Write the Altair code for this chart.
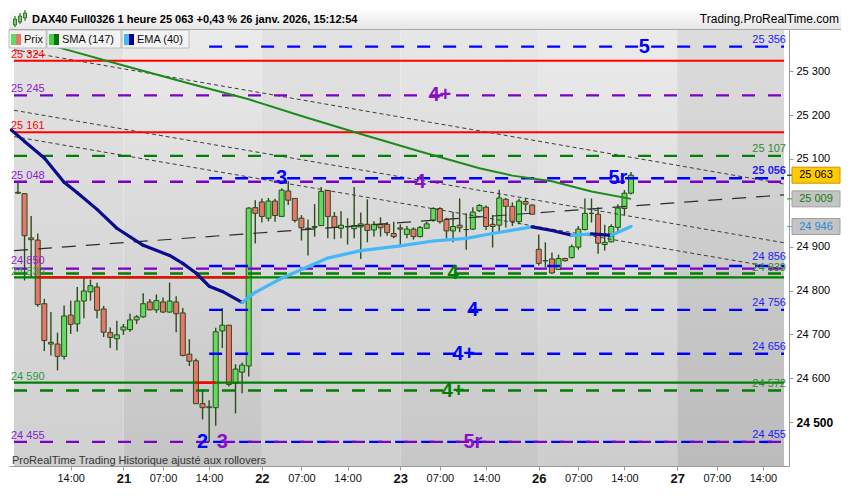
import json
import altair as alt
import pandas as pd

# ================= data =================
# hourly bars, global bar number (21 bars per trading day: 01:00 .. 21:00)
bar_index = list(range(5, 99))
opens = [25024, 25021, 24920, 24915, 24770, 24682, 24678, 24650, 24744, 24724,
         24776, 24797, 24808, 24758, 24704, 24690, 24710, 24711, 24733, 24740,
         24774, 24756, 24774, 24751, 24774, 24749, 24655, 24640, 24542, 24533,
         24533, 24708, 24721, 24588, 24614, 24628, 24989, 25002, 24965, 25004,
         24969, 25027, 25010, 24965, 24941, 24944, 24948, 25028, 24969, 24942,
         24945, 24941, 24945, 24951, 24938, 24951, 24951, 24930, 24943, 24928,
         24940, 24923, 24942, 24960, 24987, 24962, 24936, 24949, 24939, 24940,
         24982, 24990, 24951, 24949, 25008, 24992, 24957, 25003, 24995, 24894,
         24868, 24872, 24848, 24873, 24875, 24899, 24939, 24976, 24974, 24905,
         24911, 24944, 24987, 25022]
highs = [25045, 25022, 24970, 24930, 24781, 24751, 24704, 24766, 24777, 24808,
         24832, 24825, 24818, 24765, 24716, 24731, 24724, 24747, 24744, 24794,
         24781, 24791, 24784, 24818, 24787, 24760, 24689, 24645, 24574, 24550,
         24715, 24760, 24721, 24632, 24636, 24990, 25006, 25010, 25011, 25009,
         25033, 25050, 25010, 24972, 24962, 24997, 25036, 25030, 24979, 24981,
         24965, 25036, 24978, 25008, 24958, 24967, 24956, 24957, 24951, 24947,
         24944, 24947, 24957, 24990, 24990, 24966, 24979, 25010, 24976, 24990,
         24997, 24994, 24972, 25030, 25011, 25001, 25009, 25010, 24996, 24928,
         24910, 24887, 24882, 24875, 24905, 24947, 25010, 25010, 24990, 24950,
         24951, 24997, 25029, 25070]
lows = [25020, 24823, 24830, 24763, 24662, 24652, 24618, 24643, 24701, 24706,
        24737, 24777, 24737, 24694, 24669, 24664, 24699, 24706, 24724, 24738,
        24755, 24749, 24749, 24749, 24705, 24650, 24628, 24542, 24506, 24455,
        24492, 24669, 24581, 24520, 24566, 24604, 24907, 24955, 24958, 24957,
        24969, 24995, 24955, 24914, 24880, 24923, 24948, 24919, 24917, 24919,
        24905, 24919, 24872, 24910, 24923, 24923, 24925, 24919, 24905, 24919,
        24916, 24921, 24942, 24957, 24953, 24919, 24910, 24933, 24893, 24938,
        24979, 24938, 24898, 24936, 24944, 24947, 24951, 24981, 24974, 24857,
        24853, 24838, 24847, 24866, 24873, 24893, 24937, 24955, 24884, 24891,
        24910, 24932, 24972, 25019]
closes = [25022, 24925, 24916, 24768, 24686, 24678, 24650, 24742, 24723, 24776,
          24799, 24811, 24755, 24705, 24693, 24699, 24717, 24733, 24740, 24770,
          24756, 24777, 24751, 24776, 24747, 24652, 24639, 24542, 24533, 24535,
          24706, 24721, 24586, 24621, 24630, 24988, 24976, 24969, 25004, 24971,
          25029, 25006, 24960, 24943, 24942, 24946, 25026, 24969, 24944, 24949,
          24946, 24948, 24952, 24937, 24951, 24943, 24932, 24923, 24940, 24940,
          24923, 24944, 24952, 24987, 24957, 24936, 24946, 24943, 24939, 24979,
          24994, 24946, 24946, 25011, 24992, 24958, 25004, 24997, 24974, 24862,
          24868, 24840, 24873, 24868, 24900, 24940, 24976, 24976, 24908, 24910,
          24946, 24988, 25022, 25063]

sma_index = [4, 11, 21, 31, 40, 48, 57, 66, 75, 80, 86, 92, 98]
sma_value = [25385, 25355, 25313, 25272, 25236, 25198, 25157, 25117, 25079, 25062, 25049, 25026, 25009]

ema_index = [4, 6, 9, 12, 14, 17, 20, 24, 28, 30, 32, 34, 36, 39, 41, 45, 52, 57,
             63, 68, 73, 77, 83, 86, 89, 92, 95, 98]
ema_value = [25166, 25140, 25102, 25047, 25023, 24985, 24942, 24903, 24880, 24862,
             24840, 24810, 24798, 24773, 24796, 24828, 24874, 24891, 24902, 24913,
             24919, 24930, 24945, 24937, 24926, 24929, 24926, 24946]

level_price = [25356, 25324, 25245, 25161, 25107, 25056, 25048, 24856, 24850,
               24839, 24830, 24756, 24656, 24590, 24572, 24455, 24455]
level_kind = ["blue", "red", "purple", "red", "green", "blue", "purple", "blue", "purple",
              "green", "green_solid", "blue", "blue", "green_solid", "green", "blue", "purple"]
level_from = [34, 0, 0, 0, 0, 34, 0, 34, 0, 0, 0, 34, 34, 0, 0, 34, 0]
bold_levels = [25056]

break_price = [24830, 24590]
break_from = [8, 32]
break_to = [39.8, 35]

trend_from_val = [25349, 25211, 25151, 24891]
trend_to_val = [25043, 24909, 24849, 25018]
trend_kind = ["short", "short", "short", "long"]

wave_text = ["5", "4+", "3", "4", "5r", "4", "4", "4+", "4+", "2", "3", "5r"]
wave_index = [100, 69, 45, 66, 96, 71, 74, 72.6, 71, 33, 36, 74]
wave_price = [25356, 25245, 25056, 25048, 25056, 24839, 24756, 24656, 24572, 24455, 24455, 24455]
wave_kind = ["blue", "purple", "blue", "purple", "blue", "green", "blue", "blue", "green",
             "blue", "purple", "purple"]

box_price = [25063, 25009, 24946]

xtick_idx = [13, 21, 27, 34, 42, 48, 55, 63, 69, 76, 84, 90, 97, 105, 111, 118]
xtick_lab = ["14:00", "21", "07:00", "14:00", "22", "07:00", "14:00", "23", "07:00",
             "14:00", "26", "07:00", "14:00", "27", "07:00", "14:00"]
day_idx = [21, 42, 63, 84, 105]
ytick_vals = [24500, 24600, 24700, 24800, 24900, 25100, 25200, 25300]

band_start = [4.4, 21, 42, 63, 84, 105]
band_end = [21, 42, 63, 84, 105, 121.2]

title_text = "DAX40 Full0326 1 heure 25 063 +0,43 % 26 janv. 2026, 15:12:54"
site_text = "Trading.ProRealTime.com"
footer_text = "ProRealTime Trading  Historique ajusté aux rollovers"
legend_names = ["Prix", "SMA (147)", "EMA (40)"]

# ================= styling =================
W, H = 780, 436
XMIN, XMAX = 4.4, 121.2
YMIN, YMAX = 24400, 25394
FONT = "Liberation Sans"
WICK = "#2b4d19"
GREEN = "#62dc5e"
RED = "#e8766c"
NAVY = "#0c0c8c"
LIGHT = "#45b8f8"
band_top = ["#e2e2e2", "#ebebeb", "#e2e2e2", "#e7e7e7", "#ebebeb", "#dddddd"]
band_bot = ["#d0d0d0", "#c4c4c4", "#cfcfcf", "#c7c7c7", "#cdcdcd", "#bbbbbb"]
KIND = {
    "blue": dict(color="#0000ff", dash=[13, 13], width=2.4, label="#2020ff", side="right"),
    "purple": dict(color="#7d00c8", dash=[13, 13], width=2.4, label="#8a22cc", side="left"),
    "green": dict(color="#008000", dash=[13, 13], width=2.4, label="#2e8b2e", side="right"),
    "red": dict(color="#ff0000", dash=None, width=2.0, label="#ff0000", side="left"),
    "green_solid": dict(color="#008000", dash=None, width=2.4, label="#2e9a3e", side="left"),
}
# small vertical nudges for labels that sit very close together
label_dy = {("left", 24850): -5, ("left", 24830): -2, ("right", 24856): -6, ("right", 24839): -2}

xs = alt.Scale(domain=[XMIN, XMAX], nice=False, zero=False)
ys = alt.Scale(domain=[YMIN, YMAX], nice=False, zero=False)


def X(f):
    return alt.X(f, type="quantitative", scale=xs)


def Y(f):
    return alt.Y(f, type="quantitative", scale=ys)


def fmt(p):
    return f"{p:,}".replace(",", " ")


one = pd.DataFrame({"a": [0]})
cdf = pd.DataFrame({"i": bar_index, "o": opens, "h": highs, "l": lows, "c": closes})
layers = []

# axis carrier (first layer so its axis definitions win the merge)
day_test = f"indexof({json.dumps(day_idx)}, datum.value) >= 0"
x_axis = alt.Axis(
    values=xtick_idx,
    labelExpr=f"{json.dumps(xtick_lab)}[indexof({json.dumps(xtick_idx)}, datum.value)]",
    title=None, grid=False, domainColor="#9a9a9a", tickColor="#9a9a9a", tickSize=4,
    labelFont=FONT, labelColor="#111111", labelPadding=2, labelOverlap=False,
    labelFontSize={"condition": {"test": day_test, "value": 13}, "value": 11},
    labelFontWeight={"condition": {"test": day_test, "value": "bold"}, "value": "normal"},
)
y_axis = alt.Axis(
    orient="right", values=ytick_vals, title=None, grid=False,
    labelExpr="replace(format(datum.value, ','), ',', ' ')",
    domainColor="#9a9a9a", tickColor="#9a9a9a", tickSize=4, labelPadding=3,
    labelFont=FONT, labelColor="#000000",
    labelFontSize={"condition": {"test": "datum.value == 24500", "value": 12}, "value": 11},
    labelFontWeight={"condition": {"test": "datum.value == 24500", "value": "bold"}, "value": "normal"},
)
layers.append(alt.Chart(cdf).mark_rule(opacity=0).encode(
    x=alt.X("i:Q", scale=xs, axis=x_axis),
    y=alt.Y("l:Q", scale=ys, axis=y_axis),
    y2="h:Q"))

# background day bands
for s, e, t, b in zip(band_start, band_end, band_top, band_bot):
    grad = {"gradient": "linear", "x1": 0, "y1": 0, "x2": 0, "y2": 1,
            "stops": [{"offset": 0, "color": t}, {"offset": 1, "color": b}]}
    layers.append(alt.Chart(pd.DataFrame({"s": [s], "e": [e]})).mark_rect(fill=grad, clip=True).encode(
        x=X("s"), x2="e:Q", y=alt.value(0), y2=alt.value(H)))

# candles
layers.append(alt.Chart(cdf).mark_rule(color=WICK, strokeWidth=1.4, clip=True).encode(
    x=X("i"), y=Y("l"), y2="h:Q"))
layers.append(alt.Chart(cdf).mark_bar(size=5, stroke=WICK, strokeWidth=1, clip=True).encode(
    x=X("i"), y=Y("o"), y2="c:Q",
    fill=alt.condition("datum.c >= datum.o", alt.value(GREEN), alt.value(RED))))

# trend lines
for v0, v1, k in zip(trend_from_val, trend_to_val, trend_kind):
    tdf = pd.DataFrame({"x0": [XMIN], "x1": [XMAX], "y0": [v0], "y1": [v1]})
    if k == "short":
        m = alt.Chart(tdf).mark_rule(color="#3c3c3c", strokeWidth=1, strokeDash=[4, 3], clip=True)
    else:
        m = alt.Chart(tdf).mark_rule(color="#2c2c2c", strokeWidth=1.2, strokeDash=[14, 10], clip=True)
    layers.append(m.encode(x=X("x0"), x2="x1:Q", y=Y("y0"), y2="y1:Q"))

# horizontal levels
for p, k, f in zip(level_price, level_kind, level_from):
    st = KIND[k]
    ldf = pd.DataFrame({"x0": [XMIN if f == 0 else f], "x1": [XMAX], "p": [p]})
    kw = dict(color=st["color"], strokeWidth=st["width"], clip=True)
    if st["dash"]:
        kw["strokeDash"] = st["dash"]
        if k == "blue" and p == 24455:
            kw["strokeDashOffset"] = 22
    layers.append(alt.Chart(ldf).mark_rule(**kw).encode(x=X("x0"), x2="x1:Q", y=Y("p")))

# red break segments
bdf = pd.DataFrame({"x0": break_from, "x1": break_to, "p": break_price})
layers.append(alt.Chart(bdf).mark_rule(color="#ff0000", strokeWidth=2.4, clip=True).encode(
    x=X("x0"), x2="x1:Q", y=Y("p")))

# SMA 147
sdf = pd.DataFrame({"i": sma_index, "v": sma_value})
layers.append(alt.Chart(sdf).mark_line(color="#1c8a1c", strokeWidth=2, clip=True).encode(
    x=X("i"), y=Y("v")))

# EMA 40 (dark when falling, light when rising)
seg = []
for k in range(len(ema_index) - 1):
    seg.append({"x0": ema_index[k], "x1": ema_index[k + 1], "y0": ema_value[k], "y1": ema_value[k + 1],
                "c": NAVY if ema_value[k + 1] < ema_value[k] else LIGHT})
layers.append(alt.Chart(pd.DataFrame(seg)).mark_rule(strokeWidth=3.2, strokeCap="round", clip=True).encode(
    x=X("x0"), x2="x1:Q", y=Y("y0"), y2="y1:Q", color=alt.Color("c:N", scale=None)))

# level labels (left side / right side of the plot)
for p, k in zip(level_price, level_kind):
    st = KIND[k]
    side = st["side"]
    d = pd.DataFrame({"p": [p], "t": [fmt(p)]})
    dy = label_dy.get((side, p), -3 if side == "left" else -4)
    kw = dict(font=FONT, fontSize=11, baseline="alphabetic", dy=dy, color=st["label"],
              align="left" if side == "left" else "right")
    if side == "right" and p in bold_levels:
        kw["fontWeight"] = "bold"
    layers.append(alt.Chart(d).mark_text(**kw).encode(
        x=alt.value(2 if side == "left" else W - 3), y=Y("p"), text="t:N"))

# wave labels
wdf = pd.DataFrame({"i": wave_index, "p": wave_price, "t": wave_text,
                    "c": [KIND[k]["color"] if k != "purple" else "#8a10c8" for k in wave_kind]})
layers.append(alt.Chart(wdf).mark_text(font=FONT, fontSize=20, fontWeight="bold",
                                       align="center", baseline="middle").encode(
    x=X("i"), y=Y("p"), text="t:N", color=alt.Color("c:N", scale=None)))

# footer text
layers.append(alt.Chart(pd.DataFrame({"t": [footer_text]})).mark_text(
    font=FONT, fontSize=11, align="left", baseline="alphabetic", color="#333333").encode(
    x=alt.value(3), y=alt.value(H - 2), text="t:N"))

# legend buttons
leg_pos = [(0, 37), (38, 112), (113, 180)]
leg_cols = [(GREEN, RED), ("#3ed43e", "#0f6e0f"), (LIGHT, "#000090")]
for name, (a, b), (c1, c2) in zip(legend_names, leg_pos, leg_cols):
    layers.append(alt.Chart(one).mark_rect(fill="#f3f3f3", stroke="#bdbdbd", strokeWidth=1).encode(
        x=alt.value(a), x2=alt.value(b), y=alt.value(0), y2=alt.value(18)))
    layers.append(alt.Chart(one).mark_rect(fill=c1).encode(
        x=alt.value(a + 2), x2=alt.value(a + 7), y=alt.value(4), y2=alt.value(15)))
    layers.append(alt.Chart(one).mark_rect(fill=c2).encode(
        x=alt.value(a + 7), x2=alt.value(a + 12), y=alt.value(4), y2=alt.value(15)))
    layers.append(alt.Chart(pd.DataFrame({"t": [name]})).mark_text(
        font=FONT, fontSize=11, align="left", baseline="alphabetic", color="#111111").encode(
        x=alt.value(a + 15), y=alt.value(13), text="t:N"))

# price boxes on the right axis
box_fill = ["#ffcc00", "#c4c4c4", "#c4c4c4"]
box_stroke = ["#d09000", "#a0a0a0", "#a0a0a0"]
box_txt = ["#000000", "#1a7a1a", "#2a8ad0"]
box_tick = ["#000000", "#1a9a1a", "#3ab0f0"]
for p, fl, sk, tc, tk in zip(box_price, box_fill, box_stroke, box_txt, box_tick):
    d = pd.DataFrame({"p": [p], "t": [fmt(p)]})
    layers.append(alt.Chart(d).mark_rule(color=tk, strokeWidth=1).encode(
        x=alt.value(W - 2), x2=alt.value(W + 3), y=Y("p")))
    layers.append(alt.Chart(d).mark_rect(fill=fl, stroke=sk, strokeWidth=1, yOffset=-8, y2Offset=8).encode(
        x=alt.value(W + 3), x2=alt.value(W + 51), y=Y("p"), y2="p:Q"))
    layers.append(alt.Chart(d).mark_text(font=FONT, fontSize=11, align="center", baseline="middle",
                                         color=tc).encode(
        x=alt.value(W + 27), y=Y("p"), text="t:N"))

# title bar
tgrad = {"gradient": "linear", "x1": 0, "y1": 0, "x2": 0, "y2": 1,
         "stops": [{"offset": 0, "color": "#ffffff"}, {"offset": 1, "color": "#e6e6e6"}]}
layers.append(alt.Chart(one).mark_rect(fill=tgrad).encode(
    x=alt.value(0), x2=alt.value(W + 52), y=alt.value(-22), y2=alt.value(-1)))
layers.append(alt.Chart(one).mark_rule(color="#a8a8a8", strokeWidth=1).encode(
    x=alt.value(0), x2=alt.value(W + 52), y=alt.value(-0.5)))
for cx, y0, y1, w0, w1 in [(6, -11, -5, -14, -3), (11, -14, -8, -17, -6), (16, -17, -12, -20, -9)]:
    layers.append(alt.Chart(one).mark_rule(color=WICK, strokeWidth=1).encode(
        x=alt.value(cx), y=alt.value(w0), y2=alt.value(w1)))
    layers.append(alt.Chart(one).mark_rect(fill=GREEN, stroke=WICK, strokeWidth=0.8).encode(
        x=alt.value(cx - 1.5), x2=alt.value(cx + 1.5), y=alt.value(y0), y2=alt.value(y1)))
layers.append(alt.Chart(pd.DataFrame({"t": [title_text]})).mark_text(
    font=FONT, fontSize=11, fontWeight="bold", align="left", baseline="alphabetic", color="#000000").encode(
    x=alt.value(23), y=alt.value(-7), text="t:N"))
layers.append(alt.Chart(pd.DataFrame({"t": [site_text]})).mark_text(
    font=FONT, fontSize=12, align="right", baseline="alphabetic", color="#000000").encode(
    x=alt.value(W + 50), y=alt.value(-7), text="t:N"))

chart = alt.layer(*layers).properties(width=W, height=H, padding=0).configure_view(stroke=None)
chart.save("out.html", embed_options={"renderer": "svg", "actions": False})
